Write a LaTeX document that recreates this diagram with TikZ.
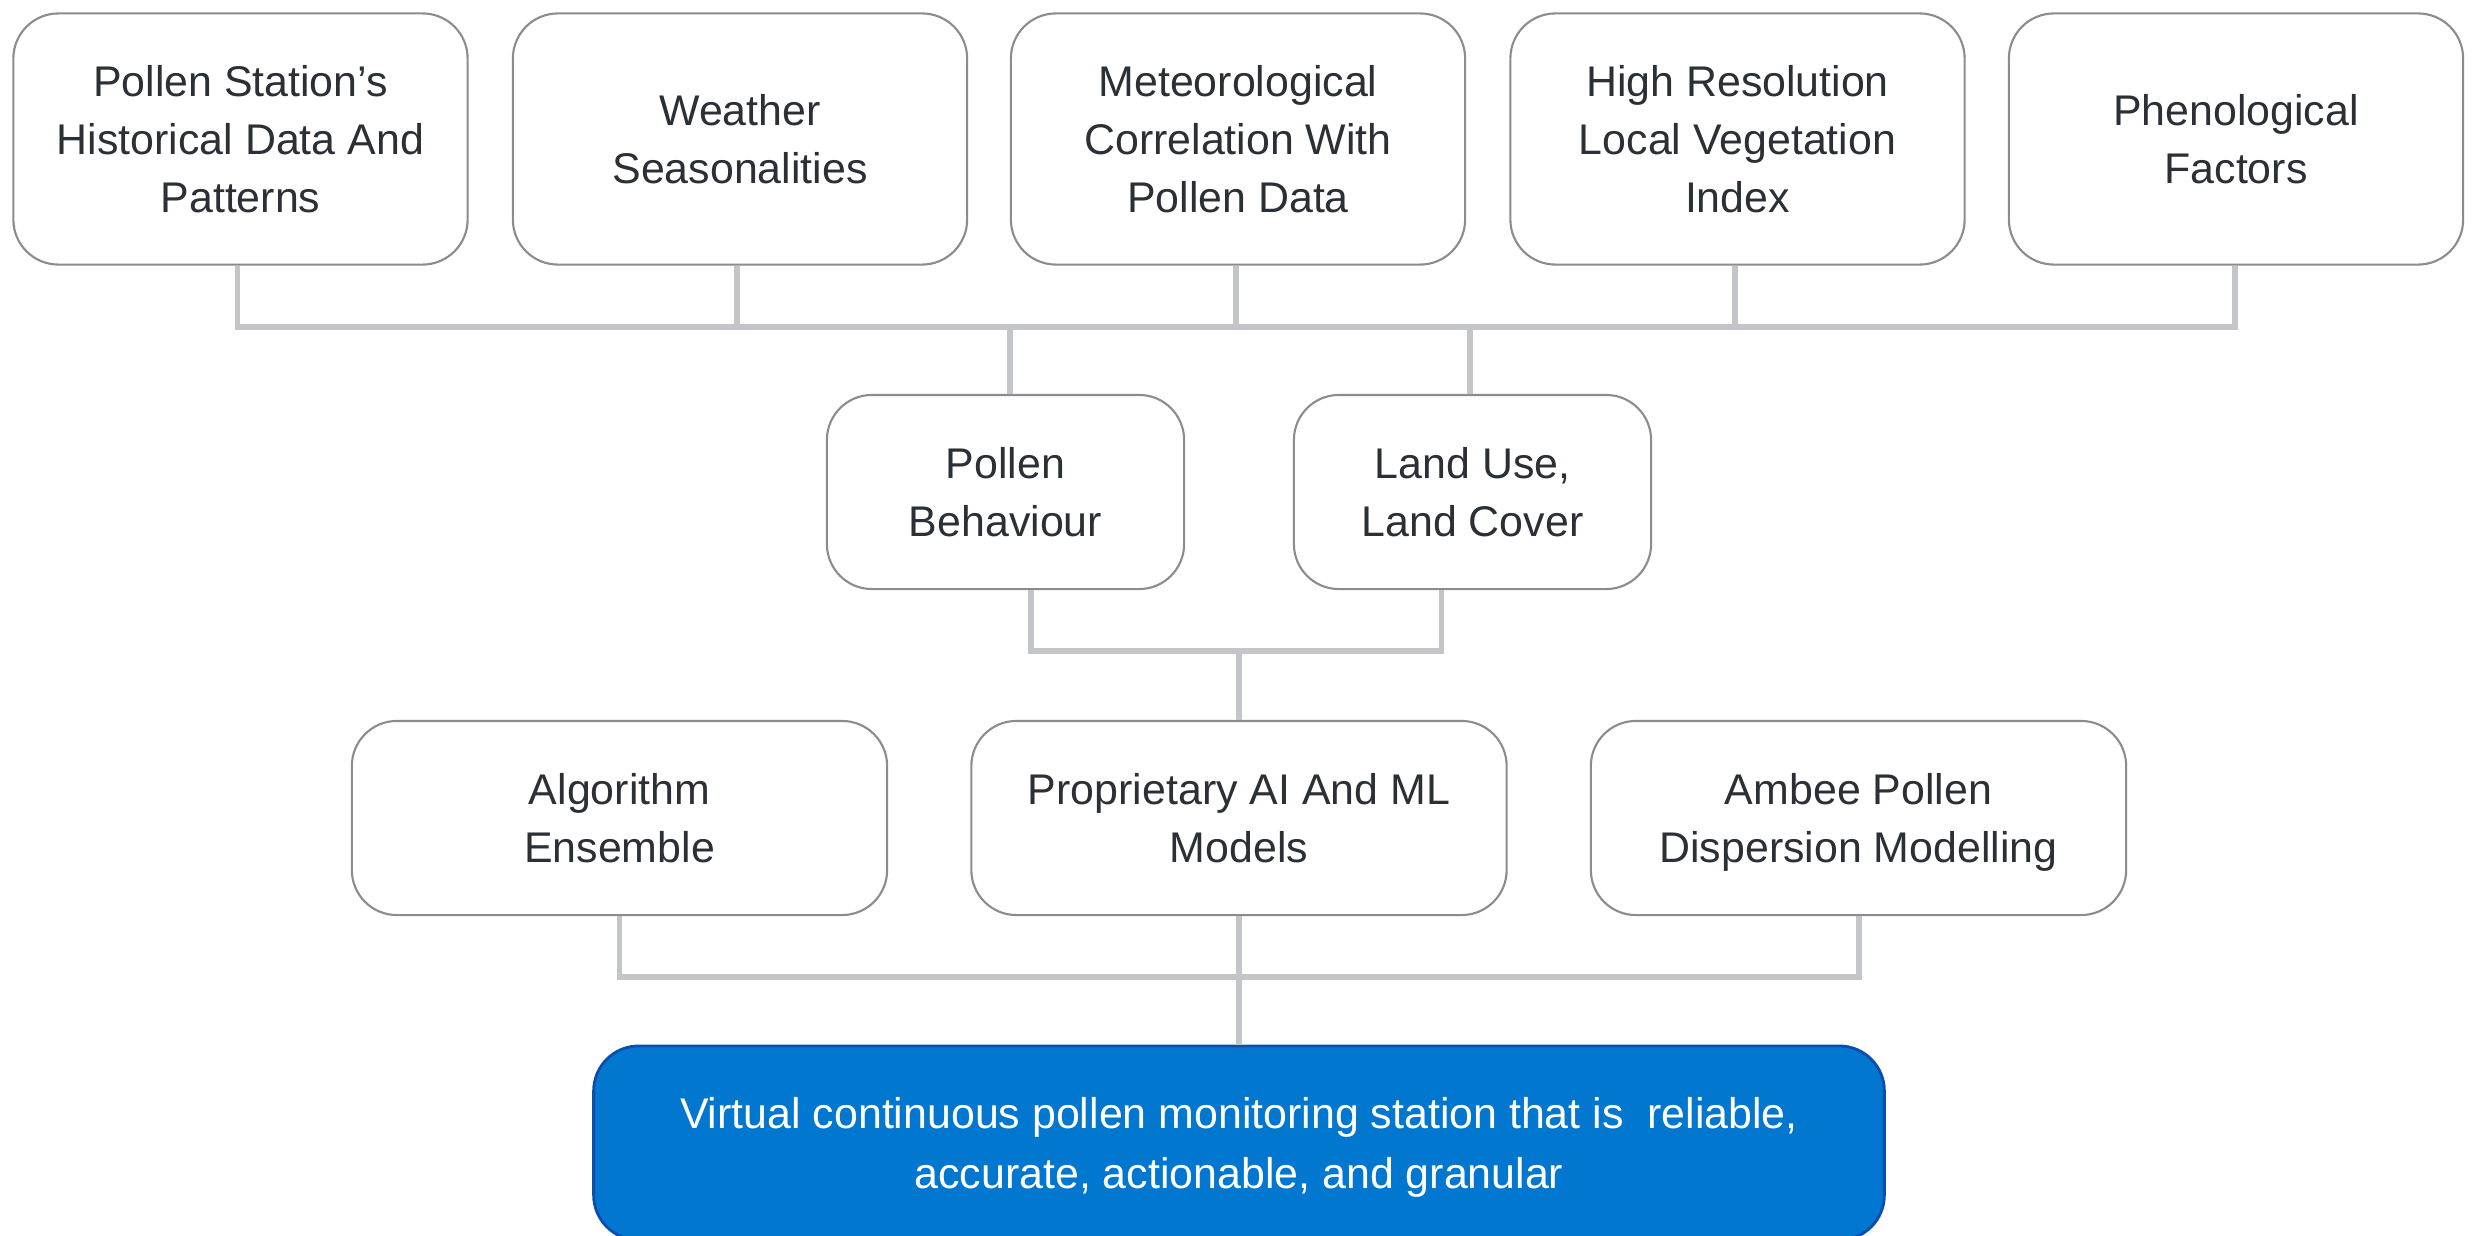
\documentclass[tikz,border=0pt]{standalone}
\usepackage{fontspec}
\setmainfont{Liberation Sans}
\definecolor{txt}{HTML}{2B2F36}
\definecolor{boxline}{HTML}{8C8C90}
\definecolor{conncol}{HTML}{C4C5C9}
\definecolor{bluefill}{HTML}{0277CF}
\definecolor{blueline}{HTML}{0B4EB0}
\tikzset{
  card/.style={draw=boxline, line width=0.6pt, fill=white, rounded corners=0.45cm,
    align=center, text=txt, font=\fontsize{12.2}{16.4}\selectfont, inner sep=2pt,
    text depth=0pt},
  topcard/.style={card, minimum width=4.54cm, minimum height=2.51cm},
  midcard/.style={card, minimum width=3.57cm, minimum height=1.94cm},
  rowcard/.style={card, minimum width=5.35cm, minimum height=1.94cm},
  goalcard/.style={draw=blueline, line width=0.8pt, fill=bluefill, rounded corners=0.45cm,
    align=center, text=white, font=\fontsize{12.2}{17}\selectfont, text depth=0pt,
    minimum width=12.90cm, minimum height=1.94cm},
  conn/.style={draw=conncol, line width=1.7pt},
}
\begin{document}
\begin{tikzpicture}[x=0.01cm, y=-0.01cm]
\path[use as bounding box] (0,0) rectangle (2478,1236);
\clip (0,0) rectangle (2478,1236);
% top row
\node[topcard] (t1) at (240.5,139) {Pollen Station’s\\Historical Data And\\Patterns};
\node[topcard] (t2) at (740,139) {Weather\\Seasonalities};
\node[topcard] (t3) at (1238,139) {Meteorological\\Correlation With\\Pollen Data};
\node[topcard] (t4) at (1737.5,139) {High Resolution\\Local Vegetation\\Index};
\node[topcard] (t5) at (2236,139) {Phenological\\Factors};
% middle row
\node[midcard] (m1) at (1005.5,492) {Pollen\\Behaviour};
\node[midcard] (m2) at (1472.5,492) {Land Use,\\Land Cover};
% third row
\node[rowcard] (r1) at (619.5,818) {Algorithm\\Ensemble};
\node[rowcard] (r2) at (1239,818) {Proprietary AI And ML\\Models};
\node[rowcard] (r3) at (1858.5,818) {Ambee Pollen\\Dispersion Modelling};
% goal
\node[goalcard] (g) at (1239,1143) {Virtual continuous pollen monitoring station that is \ reliable,\\accurate, actionable, and granular};
% connector levels and attachment points
\coordinate (h1) at (0,327);
\coordinate (h2) at (0,651);
\coordinate (h3) at (0,977);
\coordinate (t1b) at ([xshift=-0.03cm]t1.south);
\coordinate (t2b) at ([xshift=-0.03cm]t2.south);
\coordinate (t3b) at ([xshift=-0.02cm]t3.south);
\coordinate (t4b) at ([xshift=-0.025cm]t4.south);
\coordinate (t5b) at ([xshift=-0.01cm]t5.south);
\coordinate (m1t) at ([xshift=0.045cm]m1.north);
\coordinate (m2t) at ([xshift=-0.025cm]m2.north);
\coordinate (m1b) at ([xshift=0.25cm]m1.south);
\coordinate (m2b) at ([xshift=-0.31cm]m2.south);
% top connectors
\draw[conn] (t1b) -- (t1b |- h1) -- (t5b |- h1) -- (t5b);
\draw[conn] (t2b) -- (t2b |- h1);
\draw[conn] (t3b) -- (t3b |- h1);
\draw[conn] (t4b) -- (t4b |- h1);
\draw[conn] (m1t) -- (m1t |- h1);
\draw[conn] (m2t) -- (m2t |- h1);
% middle connectors
\draw[conn] (m1b) -- (m1b |- h2) -- (m2b |- h2) -- (m2b);
\draw[conn] (r2.north) -- (r2.north |- h2);
% third row connectors
\draw[conn] (r1.south) -- (r1.south |- h3) -- (r3.south |- h3) -- (r3.south);
\draw[conn] (r2.south) -- (g.north);
\end{tikzpicture}
\end{document}
